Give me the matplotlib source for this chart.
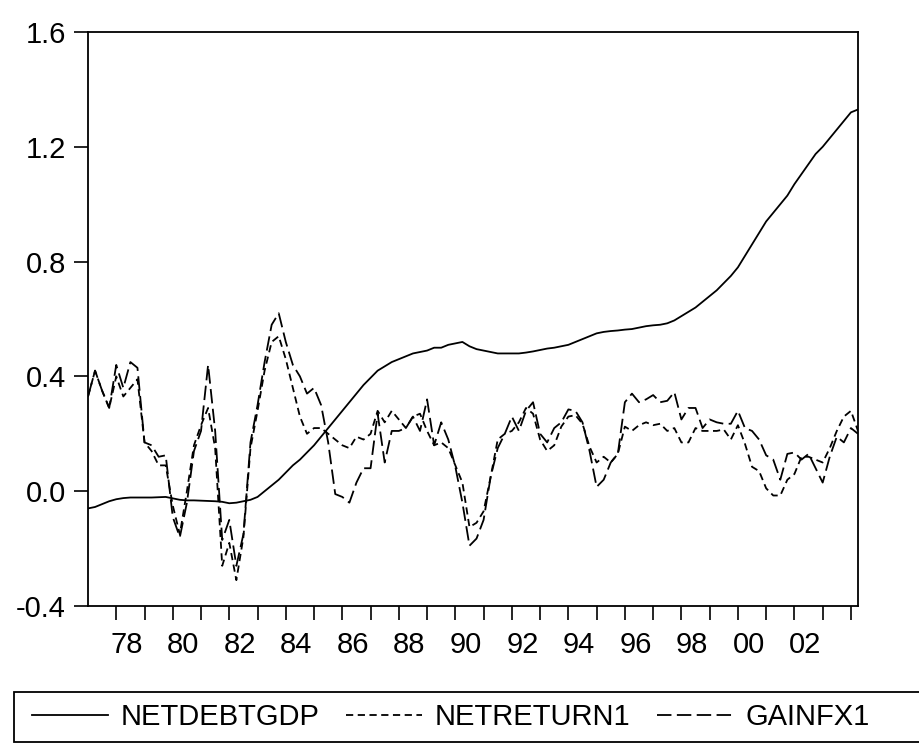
import matplotlib
matplotlib.use("Agg")
import matplotlib.pyplot as plt
import numpy as np
from matplotlib.patches import Rectangle

plt.rcParams['font.family'] = ['Liberation Sans', 'DejaVu Sans']

netdebtgdp = [-0.06,-0.055,-0.045,-0.035, -0.028,-0.024,-0.022,-0.022, -0.022,-0.022,-0.021,-0.02,
 -0.025,-0.03,-0.032,-0.032, -0.033,-0.034,-0.035,-0.037, -0.042,-0.040,-0.035,-0.03,
 -0.02,0.0,0.02,0.04, 0.065,0.09,0.11,0.135, 0.16,0.19,0.22,0.25, 0.28,0.31,0.34,0.37,
 0.395,0.42,0.435,0.45, 0.46,0.47,0.48,0.485, 0.49,0.50,0.50,0.51, 0.515,0.52,0.505,0.495,
 0.49,0.485,0.48,0.48, 0.48,0.48,0.483,0.487, 0.492,0.497,0.50,0.505, 0.51,0.52,0.53,0.54,
 0.55,0.555,0.558,0.56, 0.563,0.565,0.57,0.575, 0.578,0.58,0.585,0.595, 0.61,0.625,0.64,0.66,
 0.68,0.70,0.725,0.75, 0.78,0.82,0.86,0.90, 0.94,0.97,1.0,1.03, 1.07,1.105,1.14,1.175,
 1.20,1.23,1.26,1.29, 1.32,1.33]

netreturn1 = [0.33,0.42,0.35,0.29,0.40,0.33,0.36,0.39,0.17,0.14,0.09,0.09,-0.05,-0.15,0.0,0.16,
 0.23,0.29,0.15,-0.26,-0.18,-0.31,-0.16,0.15,0.28,0.42,0.52,0.54,0.46,0.36,0.26,0.20,
 0.22,0.22,0.20,0.18,0.16,0.15,0.19,0.18,0.20,0.28,0.24,0.28,0.25,0.22,0.26,0.27,
 0.21,0.16,0.17,0.15,0.09,0.03,
 -0.125,-0.11,-0.07,0.05,0.18,0.20,0.21,0.24,0.29,0.27,0.18,0.14,0.16,0.225,0.26,0.265,
 0.235,0.155,0.10,0.12,0.10,0.13,0.225,0.21,0.23,0.24,0.23,0.235,0.21,0.22,0.17,0.17,
 0.22,0.21,0.21,0.21,0.215,0.18,0.23,0.165,0.085,0.07,0.01,-0.015,-0.015,0.04,0.06,0.12,
 0.12,0.11,0.10,0.15,0.21,0.26,0.28,0.21]

gainfx1 = [0.33,0.42,0.35,0.29,0.44,0.36,0.45,0.43,0.17,0.16,0.12,0.125,-0.09,-0.16,-0.04,0.14,
 0.21,0.44,0.21,-0.17,-0.10,-0.26,-0.15,0.17,0.30,0.45,0.58,0.62,0.52,0.44,0.40,0.34,
 0.36,0.30,0.17,-0.01,-0.02,-0.04,0.03,0.08,0.08,0.27,0.10,0.21,0.21,0.22,0.26,0.21,
 0.32,0.16,0.24,0.18,0.085,-0.04,
 -0.19,-0.165,-0.10,0.05,0.15,0.20,0.26,0.21,0.28,0.31,0.20,0.17,0.22,0.24,0.285,0.28,
 0.24,0.14,0.015,0.04,0.10,0.13,0.31,0.34,0.31,0.32,0.335,0.31,0.315,0.345,0.25,0.29,
 0.29,0.22,0.25,0.24,0.235,0.235,0.28,0.22,0.21,0.18,0.125,0.11,0.04,0.13,0.135,0.11,
 0.13,0.08,0.03,0.12,0.19,0.17,0.22,0.20]

start_year = 1977
year_labels = ['78','80','82','84','86','88','90','92','94','96','98','00','02']
label_years = [1978,1980,1982,1984,1986,1988,1990,1992,1994,1996,1998,2000,2002]
yticks = [-0.4, 0.0, 0.4, 0.8, 1.2, 1.6]

n = min(len(netdebtgdp), len(netreturn1), len(gainfx1))
t = start_year + np.arange(n) / 4.0
FS = 21

fig = plt.figure(figsize=(9.19, 7.43), dpi=100)
ax = fig.add_axes([88/919, 1-606/743, 770/919, 574/743])
ax.plot(t, netdebtgdp[:n], color='black', lw=1.3, label='NETDEBTGDP')
ax.plot(t, netreturn1[:n], color='black', lw=1.3, dashes=(4, 2.5), label='NETRETURN1')
ax.plot(t, gainfx1[:n], color='black', lw=1.3, dashes=(8, 3), label='GAINFX1')
ax.set_xlim(t[0], t[-1])
ax.set_ylim(-0.4, 1.6)
ax.set_yticks(yticks)
ax.set_yticklabels([f'{v:.1f}' for v in yticks], fontsize=FS)
ax.set_xticks(np.arange(1978, 2005))
ax.set_xticklabels([])
ax.tick_params(axis='x', direction='out', length=10, width=1.2)
ax.tick_params(axis='y', direction='out', length=10, width=1.2, pad=6)
for yr, lab in zip(label_years, year_labels):
    ax.annotate(lab, xy=(yr + 0.375, 0), xycoords=('data', 'axes fraction'),
                xytext=(0, -18), textcoords='offset points',
                ha='center', va='top', fontsize=FS)
for s in ax.spines.values():
    s.set_linewidth(1.3)

fig.patches.append(Rectangle((14/919, 1/743), 906/919, 50/743, transform=fig.transFigure,
                             fill=False, edgecolor='black', lw=1.3))
leg = fig.legend(loc='center left', bbox_to_anchor=(20/919, 26/743),
                 ncol=3, fontsize=FS, frameon=False,
                 handlelength=2.6, handletextpad=0.45, columnspacing=0.9, borderaxespad=0)
fig.savefig('out.png', dpi=100)
